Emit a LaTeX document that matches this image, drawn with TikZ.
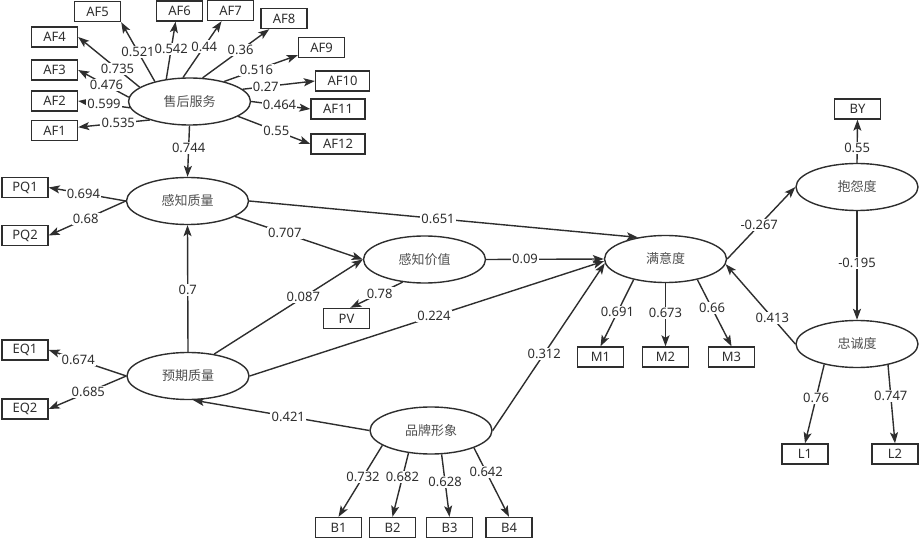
\documentclass[tikz,border=0pt]{standalone}
\usepackage{fontspec}
\setmainfont{Noto Sans}
\newfontfamily\cjk{Noto Sans CJK SC}
\usetikzlibrary{shapes,arrows.meta}

\definecolor{ink}{HTML}{2E2E2E}
\definecolor{cjkgray}{HTML}{505050}

\tikzset{
    latent/.style={ellipse, draw=ink, line width=1.4pt, minimum width=122pt, minimum height=47pt,
        inner sep=0pt, font=\cjk\fontsize{13}{15}\selectfont, text=cjkgray},
    ind/.style={rectangle, draw=ink, line width=1.4pt, minimum width=46pt, minimum height=20pt,
        inner sep=0pt, font=\fontsize{13}{15}\selectfont, text=ink},
    wideind/.style={ind, minimum width=54pt},
    coef/.style={fill=white, inner sep=1.2pt, font=\fontsize{13}{15}\selectfont, text=ink},
}

\begin{document}
\begin{tikzpicture}[x=1pt, y=-1pt, color=ink, line width=1.4pt,
    >={Stealth[length=11pt,width=8pt,inset=2.5pt]}]
    \useasboundingbox (0,0) rectangle (924,545);

    \node[latent] (shfw) at (189.5,101.5) {售后服务};
    \node[latent] (gzzl) at (187.5,201) {感知质量};
    \node[latent] (gzjz) at (424.5,259.5) {感知价值};
    \node[latent] (yqzl) at (188,376) {预期质量};
    \node[latent] (ppxx) at (431,430.5) {品牌形象};
    \node[latent] (myd) at (665.5,259) {满意度};
    \node[latent] (byd) at (857,187) {抱怨度};
    \node[latent] (zcd) at (857,344) {忠诚度};

    \node[ind] (af1) at (54.5,130.5) {AF1};
    \node[ind] (af2) at (54.5,101) {AF2};
    \node[ind] (af3) at (54.5,70) {AF3};
    \node[ind] (af4) at (54.5,37) {AF4};
    \node[ind] (af5) at (97.5,11.5) {AF5};
    \node[ind] (af6) at (179.5,11) {AF6};
    \node[ind] (af7) at (230.5,10.5) {AF7};
    \node[ind] (af8) at (284,18.5) {AF8};
    \node[ind] (af9) at (321.5,47.5) {AF9};
    \node[wideind] (af10) at (342.5,81) {AF10};
    \node[wideind] (af11) at (338,109) {AF11};
    \node[wideind] (af12) at (338,144) {AF12};
    \node[ind] (pq1) at (25,187.5) {PQ1};
    \node[ind] (pq2) at (25,235.5) {PQ2};
    \node[ind] (pv) at (346.5,318.5) {PV};
    \node[ind] (eq1) at (25,350) {EQ1};
    \node[ind] (eq2) at (25,409) {EQ2};
    \node[ind] (b1) at (338.5,527.5) {B1};
    \node[ind] (b2) at (392.5,527.5) {B2};
    \node[ind] (b3) at (449.5,527.5) {B3};
    \node[ind] (b4) at (509,527.5) {B4};
    \node[ind] (m1) at (600.5,357) {M1};
    \node[ind] (m2) at (665.5,357) {M2};
    \node[ind] (m3) at (731.5,357) {M3};
    \node[ind] (by) at (857.5,109) {BY};
    \node[ind] (l1) at (805,454) {L1};
    \node[ind] (l2) at (895,454) {L2};

    \path[->] (shfw.205) edge node[coef,pos=0.44] {0.535} (af1.8)
              (shfw.186) edge node[coef,pos=0.5] {0.599} (af2.east)
              (shfw.176) edge node[coef,pos=0.44] {0.476} (af3.east)
              (shfw.164) edge node[coef,pos=0.36] {0.735} (af4.east)
              (shfw.150) edge node[coef,pos=0.5] {0.521} (af5.south east)
              (shfw.136) edge node[coef,pos=0.53] {0.542} (af6.250)
              (shfw.105) edge node[coef,pos=0.55] {0.44} (af7.230)
              (shfw.61) edge node[coef,pos=0.57] {0.36} (af8.216)
              (shfw.30) edge node[coef,pos=0.44] {0.516} (af9.198)
              (shfw.13) edge node[coef,pos=0.32] {0.27} (af10.west)
              (shfw.0) edge node[coef,pos=0.48] {0.464} (af11.west)
              (shfw.343) edge node[coef,pos=0.53] {0.55} (af12.west)
              (shfw.south) edge node[coef,pos=0.43] {0.744} (gzzl.north);

    \path[->] (gzzl.west) edge node[coef,pos=0.55] {0.694} (pq1.east)
              (gzzl.west) edge node[coef,pos=0.52] {0.68} (pq2.east)
              (gzzl.east) edge node[coef,pos=0.486] {0.651} (myd.142)
              (gzzl.342) edge node[coef,pos=0.39] {0.707} (gzjz.west)
              (gzjz.east) edge node[coef,pos=0.33] {0.09} (myd.west)
              (gzjz.226) edge node[coef,pos=0.44] {0.78} (pv.70);

    \path[->] (yqzl.north) edge node[coef,pos=0.49] {0.7} (gzzl.south)
              (yqzl.40) edge node[coef,pos=0.6] {0.087} (gzjz.west)
              (yqzl.east) edge node[coef,pos=0.52] {0.224} (myd.182)
              (yqzl.west) edge node[coef,pos=0.62] {0.674} (eq1.east)
              (yqzl.west) edge node[coef,pos=0.49] {0.685} (eq2.east);

    \path[->] (ppxx.west) edge node[coef,pos=0.46] {0.421} (yqzl.282)
              (ppxx.east) edge node[coef,pos=0.46] {0.312} (myd.184)
              (ppxx.197) edge node[coef,pos=0.44] {0.732} (b1.north)
              (ppxx.225) edge node[coef,pos=0.38] {0.682} (b2.north)
              (ppxx.294) edge node[coef,pos=0.44] {0.628} (b3.north)
              (ppxx.338) edge node[coef,pos=0.35] {0.642} (b4.north);

    \path[->] (myd.213) edge node[coef,pos=0.49] {0.691} (m1.north)
              (myd.south) edge node[coef,pos=0.47] {0.673} (m2.north)
              (myd.327) edge node[coef,pos=0.43] {0.66} (m3.north)
              (myd.east) edge node[coef,pos=0.47] {-0.267} (byd.west)
              (byd.north) edge node[coef,pos=0.34] {0.55} (by.south)
              (byd.south) edge node[coef,pos=0.48] {-0.195} (zcd.north)
              (zcd.west) edge node[coef,pos=0.33] {0.413} (myd.355)
              (zcd.212) edge node[coef,pos=0.42] {0.76} (l1.north)
              (zcd.326) edge node[coef,pos=0.4] {0.747} (l2.north);
\end{tikzpicture}
\end{document}
